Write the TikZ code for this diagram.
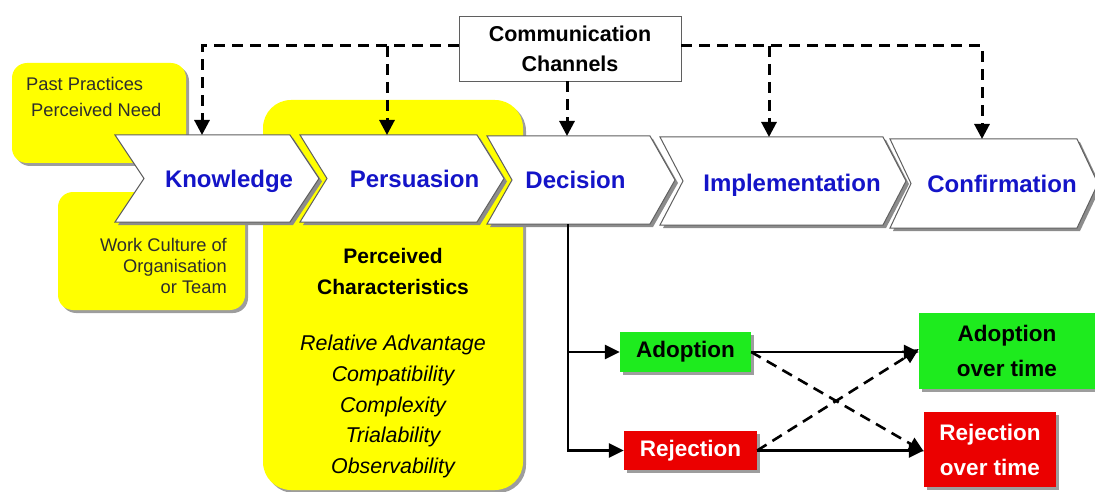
\documentclass[tikz,border=0pt]{standalone}
\usepackage{fontspec}
\setmainfont{Liberation Sans}
\usetikzlibrary{arrows.meta,shadows}

\definecolor{hiyellow}{RGB}{255,255,0}
\definecolor{higreen}{RGB}{30,235,30}
\definecolor{hired}{RGB}{235,0,0}
\definecolor{stageblue}{RGB}{20,20,200}
\definecolor{outlinegray}{RGB}{95,95,95}
\definecolor{shadowgray}{RGB}{140,140,140}
\definecolor{notetext}{RGB}{45,45,45}

% chevron stage: #1 left, #2 right, #3 top, #4 bottom, #5 point depth
\newcommand{\stagechevron}[5]{%
  \fill[shadowgray, xshift=3pt, yshift=-3pt]
    (#1,#3) -- (#2,#3) -- (#2+#5,{(#3+#4)/2}) -- (#2,#4) -- (#1,#4) -- (#1+#5,{(#3+#4)/2}) -- cycle;
  \filldraw[fill=white, draw=outlinegray, line width=1pt, line join=miter]
    (#1,#3) -- (#2,#3) -- (#2+#5,{(#3+#4)/2}) -- (#2,#4) -- (#1,#4) -- (#1+#5,{(#3+#4)/2}) -- cycle;
}

\begin{document}
\begin{tikzpicture}[x=1pt, y=-1pt,
  note/.style={fill=hiyellow,
    drop shadow={shadow xshift=3pt, shadow yshift=-3pt, fill=shadowgray, opacity=0.85}},
  notetxt/.style={anchor=base, inner sep=0pt, text=notetext,
    font=\fontsize{18.3}{21}\selectfont},
  charhead/.style={anchor=base, inner sep=0pt, font=\fontsize{21}{25}\selectfont\bfseries},
  charitem/.style={anchor=base, inner sep=0pt, font=\fontsize{21.4}{25}\selectfont\itshape},
  stagelabel/.style={anchor=base, inner sep=0pt, text=stageblue,
    font=\fontsize{24}{28}\selectfont\bfseries},
  channelbox/.style={draw=outlinegray, fill=white, line width=0.8pt,
    minimum width=222pt, minimum height=65pt, align=center, inner sep=0pt,
    font=\fontsize{21.5}{30}\selectfont\bfseries},
  outcome/.style={inner sep=0pt, align=center,
    font=\fontsize{22.5}{35}\selectfont\bfseries,
    drop shadow={shadow xshift=3pt, shadow yshift=-3pt, fill=shadowgray, opacity=0.85}},
  commlink/.style={line width=3pt, dash pattern=on 11pt off 7pt,
    -{Triangle[length=15pt,width=15pt]}},
  flow/.style={line width=2.6pt, -{Triangle[length=15pt,width=14pt]}},
  swap/.style={line width=2.6pt, dash pattern=on 11pt off 7pt,
    -{Triangle[length=15pt,width=14pt]}}
]
\useasboundingbox (0,0) rectangle (1095,492);

% yellow context boxes
\path[note, rounded corners=15pt] (12,63) rectangle (186,163);
\path[note, rounded corners=15pt] (58,192) rectangle (245,310);
\path[note, rounded corners=28pt] (263,100) rectangle (523,490);

\node[notetxt, anchor=base west] (past) at (26,91) {Past Practices};
\node[notetxt, anchor=base west] (need) at (31,117) {Perceived Need};
\node[notetxt, anchor=base east] (work) at (227,251) {Work Culture of};
\node[notetxt, anchor=base east] (org) at (227,272) {Organisation};
\node[notetxt, anchor=base east] (team) at (227,293) {or Team};

% perceived characteristics
\node[charhead] (perc) at (393,263) {Perceived};
\node[charhead] (chars) at (393,294) {Characteristics};
\node[charitem] (rel) at (393,350) {Relative Advantage};
\node[charitem] (compat) at (393,381) {Compatibility};
\node[charitem] (cplx) at (393,412) {Complexity};
\node[charitem] (trial) at (393,442) {Trialability};
\node[charitem] (obs) at (393,473) {Observability};

% stages of the decision process
\stagechevron{115}{290}{135}{222}{29}
\stagechevron{300}{477}{135}{222}{27}
\stagechevron{487}{650}{136}{224}{25}
\stagechevron{660}{883}{137}{225}{23}
\stagechevron{890}{1077}{139}{228}{21}

\node[stagelabel] (know) at (229,187) {Knowledge};
\node[stagelabel] (pers) at (414.5,187) {Persuasion};
\node[stagelabel] (deci) at (575.5,188) {Decision};
\node[stagelabel] (impl) at (792,191) {Implementation};
\node[stagelabel] (conf) at (1002,192) {Confirmation};

\coordinate (kTop) at (202,135);
\coordinate (pTop) at (387,135);
\coordinate (dTop) at (567,136);
\coordinate (iTop) at (769,137);
\coordinate (cTop) at (982,139);
\coordinate (dBot) at (568,224);

% communication channels
\node[channelbox] (comm) at (570,48.5) {Communication\\Channels};
\coordinate (hleft) at ([yshift=2.5pt]comm.west);
\coordinate (hright) at ([yshift=2.5pt]comm.east);

\draw[commlink] (hleft) -| (kTop);
\draw[commlink] (pTop |- hleft) -- (pTop);
\draw[commlink] (dTop |- comm.south) -- (dTop);
\draw[commlink] (hright) -| (cTop);
\draw[commlink] (iTop |- hright) -- (iTop);

% outcomes
\node[outcome, fill=higreen, minimum width=131pt, minimum height=40pt] (ado) at (685.5,352) {Adoption};
\node[outcome, fill=hired, text=white, minimum width=133pt, minimum height=39pt] (rej) at (690.5,450.5) {Rejection};
\node[outcome, fill=higreen, minimum width=176pt, minimum height=76pt] (aot) at (1007,351) {Adoption\\over time};
\node[outcome, fill=hired, text=white, minimum width=132pt, minimum height=75pt] (rot) at (990,449.5) {Rejection\\over time};

\draw[flow] (dBot) |- (rej.west);
\draw[flow] (dBot |- ado.west) -- (ado.west);
\draw[flow] (ado.east) -- (aot.west |- ado.east);
\draw[flow] (rej.east) -- (rot.west |- rej.east);
\draw[swap] (ado.east) -- ([yshift=-2pt]rot.west);
\draw[swap] (rej.east) -- ([yshift=2pt]aot.west);
\end{tikzpicture}
\end{document}
